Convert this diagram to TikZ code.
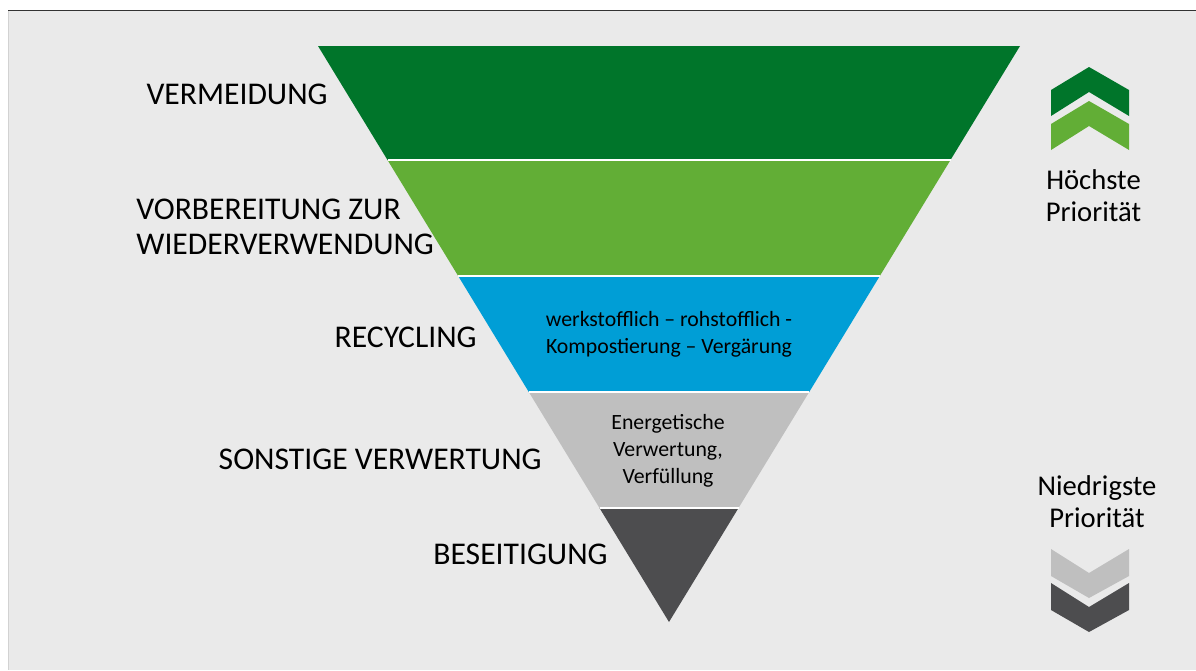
\documentclass[tikz,border=0pt]{standalone}
\usepackage{fontspec}
\setmainfont{Carlito}
\usepackage{tikz}

\definecolor{hintergrund}{RGB}{234,234,234}
\definecolor{dunkelgruen}{RGB}{0,117,42}
\definecolor{hellgruen}{RGB}{98,174,54}
\definecolor{blau}{RGB}{0,158,214}
\definecolor{hellgrau}{RGB}{191,191,191}
\definecolor{dunkelgrau}{RGB}{77,77,79}

\begin{document}
\begin{tikzpicture}[x=0.02cm,y=-0.02cm,
  stufe/.style={inner sep=0pt,font=\fontsize{18}{20}\selectfont},
  innen/.style={inner sep=0pt,align=center,font=\fontsize{12.4}{15.2}\selectfont},
  prio/.style={inner sep=0pt,align=center,font=\fontsize{16.3}{18.2}\selectfont}]
\useasboundingbox (0,0) rectangle (1196,670);
\fill[hintergrund] (8,10) rectangle (1196,670);
\draw[gray!35] (8,10) -- (8,670);
\draw[black!80] (8,10) -- (1196,10);

% Pyramide
\fill[dunkelgruen] (318,46) -- (1020,46) -- (950.5,160) -- (387.5,160) -- cycle;
\fill[hellgruen] (387.5,160) -- (950.5,160) -- (879.8,276) -- (458.2,276) -- cycle;
\fill[blau] (458.2,276) -- (879.8,276) -- (809.2,392) -- (528.8,392) -- cycle;
\fill[hellgrau] (528.8,392) -- (809.2,392) -- (738.5,508) -- (599.5,508) -- cycle;
\fill[dunkelgrau] (599.5,508) -- (738.5,508) -- (669,622) -- cycle;
\draw[white,line width=1.2pt] (387.5,160) -- (950.5,160);
\draw[white,line width=1.2pt] (458.2,276) -- (879.8,276);
\draw[white,line width=1.2pt] (528.8,392) -- (809.2,392);
\draw[white,line width=1.2pt] (599.5,508) -- (738.5,508);

\node[stufe,anchor=east] (vermeidung) at (328,94) {VERMEIDUNG};
\node[stufe,anchor=west,align=left] (vorbereitung) at (136,227) {VORBEREITUNG ZUR\\WIEDERVERWENDUNG};
\node[stufe,anchor=east] (recycling) at (477,337) {RECYCLING};
\node[stufe,anchor=east] (sonstige) at (542,459) {SONSTIGE VERWERTUNG};
\node[stufe,anchor=east] (beseitigung) at (608,554) {BESEITIGUNG};

\node[innen] (recyclingtext) at (669,334) {werkstofflich -- rohstofflich -\\Kompostierung -- Vergärung};
\node[innen] (sonstigetext) at (668,451) {Energetische\\Verwertung,\\Verfüllung};

% Prioritaet
\fill[dunkelgruen] (1051,90) -- (1089,67) -- (1129,90) -- (1129,116) -- (1089,92) -- (1051,116) -- cycle;
\fill[hellgruen] (1051,124) -- (1089,101) -- (1129,124) -- (1129,150) -- (1089,126) -- (1051,150) -- cycle;
\node[prio] (hoechste) at (1093.5,196) {Höchste\\Priorität};
\node[prio] (niedrigste) at (1097,502) {Niedrigste\\Priorität};
\fill[hellgrau] (1051,549) -- (1089,573) -- (1129,549) -- (1129,576) -- (1089,598) -- (1051,576) -- cycle;
\fill[dunkelgrau] (1051,583) -- (1089,607) -- (1129,583) -- (1129,610) -- (1089,632) -- (1051,610) -- cycle;
\end{tikzpicture}
\end{document}
